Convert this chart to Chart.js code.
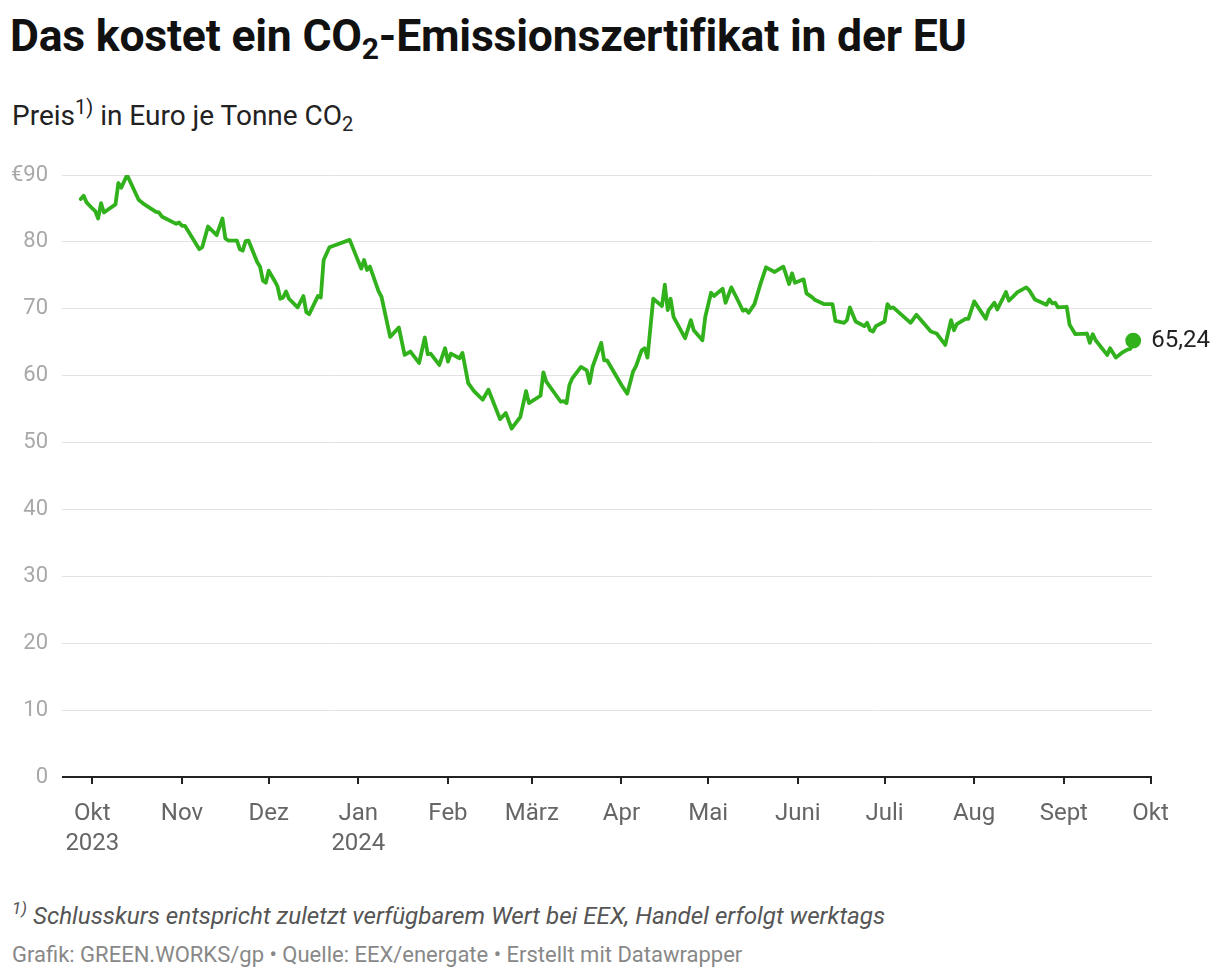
<!DOCTYPE html>
<html lang="de">
<head>
<meta charset="utf-8">
<script src="https://cdn.jsdelivr.net/npm/chart.js@4"></script>
<style>
  html, body { margin: 0; padding: 0; background: #fff; }
  body { width: 1220px; height: 978px; position: relative; font-family: Roboto, "Noto Sans", sans-serif; overflow: hidden; }
  #title { position: absolute; left: 10px; top: 10px; margin: 0; font-size: 44.5px; font-weight: 700; color: #111; letter-spacing: -0.2px; line-height: normal; }
  #title sub { font-size: 30px; vertical-align: -8px; line-height: 0; }
  #subtitle { position: absolute; left: 12px; top: 99px; font-size: 28px; color: #222; line-height: normal; }
  #subtitle sup { font-size: 20px; vertical-align: 11px; line-height: 0; }
  #subtitle sub { font-size: 20px; vertical-align: -6px; line-height: 0; }
  #chart-wrap { position: absolute; left: 0; top: 140px; width: 1220px; height: 720px; }
  #note { position: absolute; left: 12px; top: 902px; font-size: 24.2px; font-style: italic; color: #555; line-height: normal; }
  #note sup { font-size: 17px; vertical-align: 10px; line-height: 0; }
  #source { position: absolute; left: 12px; top: 942px; font-size: 22px; color: #888; line-height: normal; }
</style>
</head>
<body>
<h1 id="title">Das kostet ein CO<sub>2</sub>-Emissionszertifikat in der EU</h1>
<div id="subtitle">Preis<sup>1)</sup> in Euro je Tonne CO<sub>2</sub></div>
<div id="chart-wrap"><canvas id="co2-chart"></canvas></div>
<div id="note"><sup>1)</sup> Schlusskurs entspricht zuletzt verfügbarem Wert bei EEX, Handel erfolgt werktags</div>
<div id="source">Grafik: GREEN.WORKS/gp • Quelle: EEX/energate • Erstellt mit Datawrapper</div>

<script>
// Tage ab 1. Okt 2023 und Preis in Euro je Tonne
const priceDays = [
  -4, -3, -2, 0, 1, 2, 3, 4, 8, 9, 10, 12, 16, 18, 22, 23, 24, 29, 30, 31, 32,
  37, 38, 40, 43, 45, 46, 47, 50, 51, 52, 53, 54, 57, 58, 59, 60, 61, 63, 64,
  65, 66, 67, 68, 71, 73, 74, 75, 78, 79, 80, 82, 89, 93, 94, 95, 96, 99, 100,
  103, 106, 108, 110, 113, 115, 116, 117, 120, 122, 123, 124, 127, 128, 130,
  132, 135, 137, 141, 143, 145, 148, 150, 151, 155, 156, 157, 162, 163, 164,
  165, 166, 169, 171, 172, 173, 176, 177, 178, 183, 185, 187, 188, 190, 191,
  192, 194, 197, 198, 199, 200, 201, 205, 207, 208, 211, 212, 214, 215, 218,
  219, 221, 223, 225, 226, 227, 229, 231, 233, 236, 239, 241, 242, 243, 246,
  247, 249, 250, 253, 256, 257, 260, 261, 262, 264, 267, 268, 269, 270, 271,
  274, 275, 276, 277, 283, 285, 288, 290, 292, 295, 297, 298, 299, 302, 303,
  305, 309, 310, 312, 313, 316, 317, 320, 323, 324, 326, 330, 331, 332, 333,
  334, 337, 338, 340, 344, 345, 346, 347, 351, 352, 354, 356, 358, 359, 360
];
const priceValues = [
  86.4, 86.9, 85.9, 85.0, 84.6, 83.5, 85.8, 84.4, 85.6, 88.8, 88.1, 90.0, 86.3, 85.6, 84.5, 84.4, 83.8, 82.7, 82.9, 82.4, 82.4,
  78.9, 79.2, 82.3, 81.0, 83.5, 80.5, 80.2, 80.2, 78.9, 78.7, 80.1, 80.2, 77.0, 76.3, 74.2, 73.9, 75.7, 74.2, 73.4,
  71.5, 71.7, 72.6, 71.5, 70.2, 71.9, 69.5, 69.2, 71.9, 71.7, 77.3, 79.2, 80.3, 76.0, 77.3, 75.8, 76.3, 72.6, 71.8,
  65.8, 67.2, 63.1, 63.6, 61.9, 65.7, 63.2, 63.3, 61.6, 64.1, 62.1, 63.3, 62.6, 63.4, 58.9,
  57.7, 56.4, 57.9, 53.5, 54.4, 52.1, 53.8, 57.7, 55.9, 57.0, 60.5, 59.1, 56.1, 56.2, 55.9,
  58.6, 59.6, 61.3, 60.8, 58.9, 61.3, 64.9, 62.3, 62.3, 58.6, 57.3, 60.6, 61.4, 63.8, 64.1,
  62.7, 71.5, 70.4, 73.6, 69.8, 71.5, 68.8, 65.6, 68.3, 66.8, 65.3, 68.8, 72.4, 71.9, 73.0,
  70.9, 73.2, 71.5, 69.7, 69.9, 69.4, 70.7, 73.6, 76.2, 75.5, 76.3, 73.7, 75.3, 73.9, 74.4,
  72.3, 71.7, 71.3, 70.7, 70.7, 68.2, 67.9, 68.3, 70.2, 68.1, 67.4, 67.9, 66.8, 66.6, 67.4,
  68.1, 70.7, 70.1, 70.2, 67.9, 69.1, 67.6, 66.6, 66.3, 64.6, 68.3, 66.8, 67.7, 68.5, 68.5,
  71.1, 68.5, 69.8, 70.9, 69.9, 72.5, 71.2, 72.5, 73.2, 72.8, 71.4, 70.6, 71.4, 70.8, 70.9,
  70.2, 70.3, 67.6, 66.2, 66.3, 64.9, 66.2, 65.3, 63.1, 64.1, 62.7, 63.4, 63.9, 64.0, 65.24
];

// Monatsanfänge als Tage ab 1. Okt 2023
const monthDays = [0, 31, 61, 92, 123, 152, 183, 213, 244, 274, 305, 336, 366];
const monthLabels = [['Okt', '2023'], 'Nov', 'Dez', ['Jan', '2024'], 'Feb', 'März', 'Apr', 'Mai', 'Juni', 'Juli', 'Aug', 'Sept', 'Okt'];
const yTicks = [0, 10, 20, 30, 40, 50, 60, 70, 80, 90];

const lineGreen = '#31b21c';
const lastIndex = priceValues.length - 1;

const endLabelPlugin = {
  id: 'endLabel',
  afterDatasetsDraw(chart) {
    const meta = chart.getDatasetMeta(0);
    const pt = meta.data[lastIndex];
    const ctx = chart.ctx;
    ctx.save();
    ctx.font = '24px Roboto';
    ctx.fillStyle = '#222';
    ctx.textAlign = 'left';
    ctx.textBaseline = 'middle';
    ctx.fillText(priceValues[lastIndex].toFixed(2).replace('.', ','), pt.x + 18, pt.y);
    ctx.restore();
  }
};

const co2ChartCanvas = document.getElementById('co2-chart');
let co2ChartData = {
  type: 'line',
  data: {
    datasets: [{
      label: 'Preis',
      data: priceDays.map((d, i) => ({ x: d, y: priceValues[i] })),
      borderColor: lineGreen,
      backgroundColor: lineGreen,
      borderWidth: 3.8,
      tension: 0,
      pointRadius: ctx => ctx.dataIndex === lastIndex ? 6 : 0,
      pointHoverRadius: 0,
      borderJoinStyle: 'round',
      borderCapStyle: 'round'
    }]
  },
  options: {
    responsive: true,
    maintainAspectRatio: false,
    animation: false,
    layout: {
      padding: { top: 35, right: 68, left: 0, bottom: 0 }
    },
    scales: {
      x: {
        type: 'linear',
        min: -10.5,
        max: 366.5,
        afterBuildTicks: scale => {
          scale.ticks = monthDays.map(v => ({ value: v }));
        },
        afterFit: scale => { scale.height = 83; },
        grid: {
          drawOnChartArea: false,
          drawTicks: true,
          tickLength: 7,
          color: '#222',
          lineWidth: 2
        },
        border: { display: false },
        ticks: {
          autoSkip: false,
          maxRotation: 0,
          padding: 15,
          color: '#666',
          font: { family: 'Roboto', size: 24, lineHeight: 1.25 },
          callback: (value) => {
            const i = monthDays.indexOf(value);
            return i >= 0 ? monthLabels[i] : '';
          }
        }
      },
      y: {
        min: 0,
        max: 90,
        afterBuildTicks: scale => {
          scale.ticks = yTicks.map(v => ({ value: v }));
        },
        afterFit: scale => { scale.width = 62; },
        grid: {
          drawTicks: false,
          color: ctx => ctx.tick && ctx.tick.value === 0 ? '#222' : '#e2e2e2',
          lineWidth: ctx => ctx.tick && ctx.tick.value === 0 ? 2 : 1
        },
        border: { display: false },
        ticks: {
          padding: 14,
          color: '#a8a8a8',
          font: { family: 'Roboto', size: 22 },
          callback: v => v === 90 ? '€90' : String(v)
        }
      }
    },
    plugins: {
      legend: { display: false },
      tooltip: { enabled: false }
    }
  },
  plugins: [endLabelPlugin]
}
let co2Chart = new Chart(co2ChartCanvas, co2ChartData)
</script>
</body>
</html>
